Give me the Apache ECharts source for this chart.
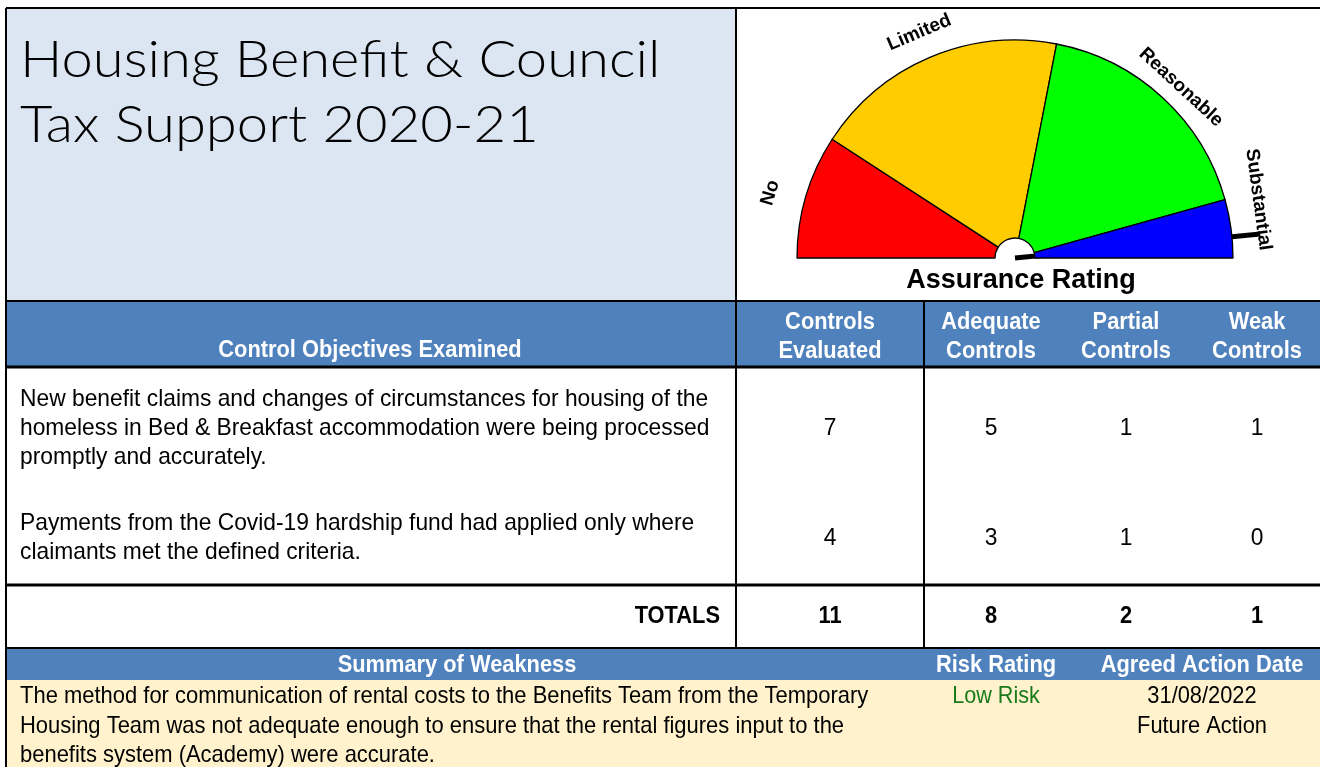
<!DOCTYPE html>
<html>
<head>
<meta charset="utf-8">
<script src="https://cdn.jsdelivr.net/npm/echarts@6/dist/echarts.min.js"></script>
<style>
  html, body { margin: 0; padding: 0; background: #fff; }
  #main { width: 1320px; height: 767px; }
</style>
</head>
<body>
<div id="main"></div>
<script>
// report data
var titleText = 'Housing Benefit & Council\nTax Support 2020-21';
var bandNames = ['No', 'Limited', 'Reasonable', 'Substantial'];
var bandDegrees = [33, 68, 63.5, 15.5];      // share of the half circle, in degrees
var needleValue = 174.4;                     // position of the needle on a 0-180 scale
var colHeaders = ['Controls\nEvaluated', 'Adequate\nControls', 'Partial\nControls', 'Weak\nControls'];
var objectives = [
  'New benefit claims and changes of circumstances for housing of the\nhomeless in Bed & Breakfast accommodation were being processed\npromptly and accurately.',
  'Payments from the Covid-19 hardship fund had applied only where\nclaimants met the defined criteria.'
];
var evaluated = [7, 4];
var adequate = [5, 3];
var partial = [1, 1];
var weak = [1, 0];
var weaknesses = ['The method for communication of rental costs to the Benefits Team from the Temporary\nHousing Team was not adequate enough to ensure that the rental figures input to the\nbenefits system (Academy) were accurate.'];
var riskRatings = ['Low Risk'];
var actionDates = ['31/08/2022\nFuture Action'];

function sum(a) { return a.reduce(function (s, v) { return s + v; }, 0); }

var chart = echarts.init(document.getElementById('main'));

var SANS = "'Liberation Sans', Arial, sans-serif";
var BLUE = '#4f81bd';
var colX = [830, 991, 1126, 1257];
var rowY = [428, 538];

var g = [];
function rect(x, y, w, h, fill) {
  g.push({ type: 'rect', shape: { x: x, y: y, width: w, height: h }, style: { fill: fill }, z: 0 });
}
function line(x1, y1, x2, y2, w) {
  g.push({ type: 'line', shape: { x1: x1, y1: y1, x2: x2, y2: y2 }, style: { stroke: '#000', lineWidth: w || 2 }, z: 5 });
}
// table fonts are condensed, so text is squeezed a little horizontally
function text(str, x, y, opt) {
  opt = opt || {};
  g.push({
    type: 'text', x: x, y: y, z: 10,
    scaleX: opt.sx || (opt.bold ? 0.91 : 0.95),
    style: {
      text: str,
      fill: opt.color || '#000',
      fontSize: opt.size || 24,
      fontWeight: opt.weight || (opt.bold ? 'bold' : 'normal'),
      fontFamily: opt.family || SANS,
      align: opt.align || 'center',
      verticalAlign: opt.valign || 'middle',
      lineHeight: opt.lh || 29
    }
  });
}

// backgrounds
rect(6, 8, 730, 293, '#dce6f2');
rect(6, 301, 1314, 66, BLUE);
rect(6, 648, 1314, 32, BLUE);
rect(6, 680, 1314, 87, '#fff2cc');

// grid lines
line(6, 8, 1320, 8);
line(6, 8, 6, 767);
line(736, 8, 736, 648);
line(924, 301, 924, 648);
line(6, 301, 1320, 301);
line(6, 367, 1320, 367, 3);
line(6, 585, 1320, 585, 3);
line(6, 648, 1320, 648);

// title
text(titleText, 20, 93, { family: 'Lato', size: 52, weight: 300, align: 'left', lh: 65, sx: 1.08 });

// table header
text('Control Objectives Examined', 370, 350, { bold: true, color: '#fff' });
colHeaders.forEach(function (h, i) {
  text(h, colX[i], 337, { bold: true, color: '#fff' });
});

// table body
var cols = [evaluated, adequate, partial, weak];
objectives.forEach(function (o, r) {
  text(o, 20, rowY[r], { align: 'left' });
  cols.forEach(function (c, i) { text(String(c[r]), colX[i], rowY[r]); });
});
text('TOTALS', 720, 616, { bold: true, align: 'right' });
cols.forEach(function (c, i) { text(String(sum(c)), colX[i], 616, { bold: true }); });

// weakness summary
text('Summary of Weakness', 457, 665, { bold: true, color: '#fff' });
text('Risk Rating', 996, 665, { bold: true, color: '#fff' });
text('Agreed Action Date', 1202, 665, { bold: true, color: '#fff' });
weaknesses.forEach(function (w, i) {
  text(w, 20, 682, { align: 'left', valign: 'top', lh: 29.5, sx: 0.915 });
  text(riskRatings[i], 996, 682, { color: '#1a7a1a', valign: 'top', lh: 29.5, sx: 0.9 });
  text(actionDates[i], 1202, 682, { valign: 'top', lh: 29.5, sx: 0.91 });
});

// gauge caption
text('Assurance Rating', 1021, 281, { bold: true, size: 27, sx: 1 });

var bandColors = ['#ff0000', '#ffcc00', '#00ff00', '#0000ff'];
var bandData = bandNames.map(function (n, i) {
  return { name: n, value: bandDegrees[i], itemStyle: { color: bandColors[i] } };
});
// offsets are in each label's own (rotated) frame
var labelOffsets = [[-7, -8], [0, 0], [6, 7], [-25, -4]];

var option = {
  animation: false,
  graphic: g,
  series: [
    {
      type: 'pie',
      center: [1015, 258],
      radius: [20, 218],
      startAngle: 180,
      endAngle: 360,
      silent: true,
      label: { show: false },
      labelLine: { show: false },
      itemStyle: { borderColor: '#000', borderWidth: 1.3 },
      data: bandData
    },
    {
      // ring that only carries the band names
      type: 'pie',
      center: [1015, 258],
      radius: [222, 262],
      startAngle: 180,
      endAngle: 360,
      silent: true,
      itemStyle: { color: 'rgba(0,0,0,0)' },
      label: {
        show: true,
        position: 'inside',
        rotate: 'tangential',
        color: '#000',
        fontSize: 19,
        fontWeight: 'bold',
        fontFamily: SANS,
        formatter: '{b}'
      },
      labelLine: { show: false },
      data: bandNames.map(function (n, i) {
        return { name: n, value: bandDegrees[i], label: { offset: labelOffsets[i] } };
      })
    },
    {
      type: 'gauge',
      center: [1015, 258],
      radius: 218,
      startAngle: 180,
      endAngle: 0,
      min: 0,
      max: 180,
      silent: true,
      axisLine: { show: false },
      splitLine: { show: false },
      axisTick: { show: false },
      axisLabel: { show: false },
      anchor: { show: false },
      title: { show: false },
      detail: { show: false },
      pointer: {
        icon: 'rect',
        width: 5,
        length: '113%',
        offsetCenter: [0, 0],
        itemStyle: { color: '#000' }
      },
      data: [{ value: needleValue }]
    }
  ]
};

chart.setOption(option);
</script>
</body>
</html>
